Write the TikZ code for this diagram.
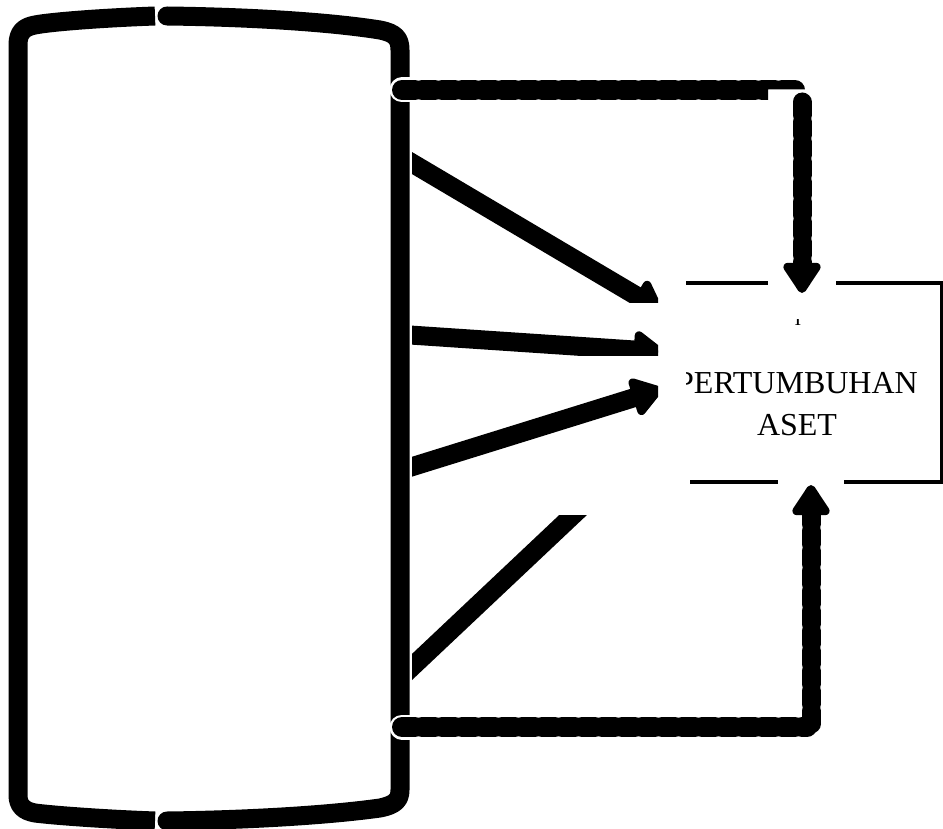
\documentclass[tikz,border=0pt]{standalone}
\usepackage{fontspec}
\setmainfont{Liberation Serif}
\usetikzlibrary{arrows.meta}
\tikzset{
  frame/.style={line width=19pt, line join=round},
  halo/.style={white, line width=25pt, line cap=round},
  dashline/.style={line width=20pt, line cap=round, dash pattern=on 13pt off 7pt},
  solidarrow/.style={line width=19pt, line cap=butt, -{Triangle[length=34pt,width=43pt,line width=10pt,round]}},
  dasharrow/.style={line width=19pt, line cap=round, dash pattern=on 13pt off 7pt, -{Triangle[length=34pt,width=42pt,line width=10pt,round]}},
  boxline/.style={line width=4pt},
  lbl/.style={font=\fontsize{32}{42}\selectfont, anchor=base, inner sep=0pt}
}
\begin{document}
\begin{tikzpicture}[x=1pt,y=-1pt]
\useasboundingbox (0,0) rectangle (943,829);
% big bracket shape, left and right pieces
\draw[frame, line cap=butt] (155,16) .. controls (100,18) and (50,22) .. (35,25) .. controls (24,27) and (18,32) .. (18,45) -- (18,795) .. controls (18,806) and (24,811) .. (35,813) .. controls (50,815) and (100,819) .. (155,821);
\draw[frame, line cap=round] (167,16) .. controls (250,17) and (330,22) .. (380,30) .. controls (395,33) and (400,38) .. (400,50) -- (400,790) .. controls (400,800) and (395,805) .. (380,808) .. controls (330,815) and (250,820) .. (167,821);
% coordinates
\coordinate (h1s) at (402,90);
\coordinate (h1e) at (795,90);
\coordinate (v1s) at (802,102);
\coordinate (v1e) at (802,293);
\coordinate (h2s) at (402,727);
\coordinate (h2e) at (807,727);
\coordinate (v2s) at (811,724);
\coordinate (v2e) at (811,485);
% top dashed connector
\draw[halo] (h1s) -- (h1e);
\begin{scope}
\clip (380,60) rectangle (768,112) (768,60) rectangle (830,89.5);
\draw[dashline] (h1s) -- (h1e);
\end{scope}
\draw[dasharrow] (v1s) -- (v1e);
% bottom dashed connector
\draw[halo] (h2s) -- (h2e);
\draw[dasharrow] (v2s) -- (v2e);
\draw[dashline] (h2s) -- (h2e);
% box (partly hidden)
\draw[boxline] (686,283) -- (768,283);
\draw[boxline] (836,283) -- (941.5,283) -- (941.5,482) -- (844,482);
\draw[boxline] (690,482) -- (778,482);
% text
\begin{scope}
\clip (686,250) rectangle (943,470);
\node[lbl] (t1) at (797,393) {PERTUMBUHAN};
\node[lbl] (t2) at (797,435) {ASET};
\end{scope}
\begin{scope}
\clip (780,319) rectangle (815,326);
\node[lbl, font=\fontsize{20}{24}\selectfont] (t0) at (798,325) {I};
\end{scope}
% solid arrows from the left
\coordinate (a1s) at (395,153);
\coordinate (a1e) at (662,311);
\coordinate (a2s) at (395,334);
\coordinate (a2e) at (664,352);
\coordinate (a3s) at (395,472);
\coordinate (a3e) at (662,389);
\coordinate (a4s) at (395,683);
\coordinate (a4e) at (660,433);
\begin{scope}
\clip (412,100) rectangle (658,303);
\draw[solidarrow] (a1s) -- (a1e);
\end{scope}
\begin{scope}
\clip (412,300) rectangle (658,355);
\draw[solidarrow] (a2s) -- (a2e);
\end{scope}
\begin{scope}
\clip (412,356) rectangle (658,520);
\draw[solidarrow] (a3s) -- (a3e);
\end{scope}
\begin{scope}
\clip (412,515) rectangle (658,720);
\draw[solidarrow] (a4s) -- (a4e);
\end{scope}
\end{tikzpicture}
\end{document}
